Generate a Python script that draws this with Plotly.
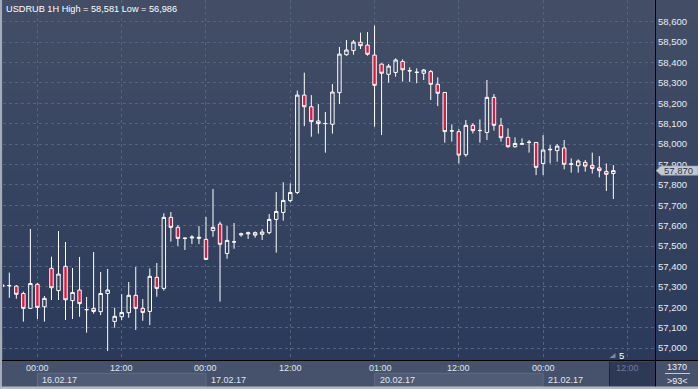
import plotly.graph_objects as go

# ---------------- data ----------------
symbol = "USDRUB"
timeframe = "1H"

opens = [57303, 57305, 57304, 57268, 57195, 57313, 57203, 57391, 57282, 57401,
         57233, 57285, 57188, 57195, 57179, 57268, 57131, 57154, 57174, 57259,
         57195, 57180, 57347, 57293, 57641, 57592, 57538, 57540, 57538, 57533,
         57576, 57608, 57464, 57520, 57555, 57560, 57566, 57558, 57566, 57631,
         57665, 57723, 57763, 58240, 58183, 58113, 58100, 58097, 58252, 58438,
         58458, 58499, 58485, 58436, 58392, 58342, 58351, 58405, 58358, 58351,
         58347, 58355, 58293, 58253, 58064, 58061, 57948, 58092, 58066, 58057,
         58229, 58092, 58033, 57987, 57999, 58008, 58008, 57905, 57972, 57968,
         57981, 57901, 57894, 57910, 57896, 57883, 57866, 57856]
highs = [57312, 57370, 57309, 57277, 57584, 57319, 57255, 57448, 57574, 57520,
         57393, 57447, 57251, 57471, 57373, 57388, 57198, 57265, 57324, 57398,
         57241, 57391, 57417, 57661, 57667, 57603, 57541, 57554, 57598, 57643,
         57780, 57620, 57598, 57613, 57566, 57571, 57572, 57584, 57657, 57765,
         57813, 57808, 58262, 58350, 58240, 58196, 58157, 58294, 58476, 58510,
         58510, 58546, 58549, 58581, 58395, 58392, 58420, 58415, 58376, 58371,
         58368, 58363, 58327, 58253, 58097, 58074, 58118, 58102, 58121, 58314,
         58245, 58128, 58077, 58033, 58028, 58020, 58008, 58044, 57995, 58000,
         58020, 57930, 57925, 57922, 57958, 57941, 57905, 57897]
lows = [57300, 57247, 57242, 57130, 57195, 57143, 57130, 57236, 57236, 57138,
        57143, 57154, 57076, 57169, 57162, 56986, 57100, 57138, 57149, 57089,
        57134, 57113, 57252, 57282, 57522, 57501, 57481, 57510, 57510, 57432,
        57546, 57228, 57438, 57487, 57546, 57535, 57541, 57530, 57558, 57468,
        57625, 57714, 57755, 58088, 58036, 58051, 57958, 58051, 58196, 58433,
        58438, 58466, 58433, 58085, 58044, 58301, 58330, 58306, 58304, 58298,
        58314, 58216, 58186, 58007, 58012, 57905, 57938, 58052, 58007, 58020,
        58066, 58012, 57982, 57982, 57995, 57958, 57848, 57848, 57905, 57914,
        57876, 57860, 57860, 57865, 57856, 57837, 57770, 57731]
closes = [57309, 57307, 57264, 57195, 57317, 57200, 57244, 57296, 57363, 57237,
          57273, 57218, 57189, 57180, 57268, 57285, 57156, 57175, 57259, 57195,
          57175, 57352, 57293, 57641, 57592, 57538, 57539, 57544, 57543, 57435,
          57592, 57509, 57528, 57521, 57560, 57565, 57554, 57569, 57631, 57670,
          57724, 57763, 58240, 58183, 58110, 58100, 58101, 58255, 58441, 58461,
          58500, 58482, 58440, 58288, 58347, 58382, 58412, 58364, 58360, 58352,
          58363, 58293, 58249, 58061, 58065, 57946, 58092, 58066, 58067, 58229,
          58092, 58031, 57987, 58003, 58002, 58009, 57886, 57971, 57974, 57990,
          57901, 57903, 57917, 57892, 57881, 57870, 57852, 57870]
bar_index = list(range(len(opens)))

grid_ticks = [5, 17, 29, 41, 53, 65, 77, 89]
time_labels = ["00:00", "12:00", "00:00", "12:00", "01:00", "12:00", "00:00", "12:00"]
date_ticks = [5, 29, 53, 77]
date_labels = ["16.02.17", "17.02.17", "20.02.17", "21.02.17"]
price_ticks = list(range(57000, 58601, 100))
future_start = 86.45
counter_top = "1370"
counter_bottom = ">93<"
bars_marker = "5"

# ---------------- geometry helpers ----------------
W, H = 698, 389
ML, MR, MT, MB = 3, 43, 0, 29
PW = W - ML - MR
PH = H - MT - MB


def px(x):
    return (x - ML) / PW


def py(y):
    return (PH - (y - MT)) / PH


x_range = [0.1, 92.93]
y_range = [56942, 58706]

FONT = "Liberation Sans, Arial, sans-serif"
TXT = "#dfe6f0"

fig = go.Figure()
fig.add_trace(go.Candlestick(
    x=bar_index, open=opens, high=highs, low=lows, close=closes,
    increasing=dict(line=dict(color="#ffffff", width=1), fillcolor="rgba(0,0,0,0)"),
    decreasing=dict(line=dict(color="#ffffff", width=1), fillcolor="#e3173e"),
    whiskerwidth=0, hoverinfo="skip", showlegend=False,
))

shapes = []
# vertical gradient background (plot + price axis)
N = 36
top = (67, 78, 102)
bot = (43, 58, 91)
for k in range(N):
    t = k / (N - 1)
    c = tuple(round(top[i] + (bot[i] - top[i]) * t) for i in range(3))
    y0 = k * PH / N
    y1 = (k + 1) * PH / N + 0.6
    shapes.append(dict(type="rect", xref="paper", yref="paper",
                       x0=px(ML), x1=px(W), y0=py(min(y1, PH)), y1=py(y0),
                       fillcolor="rgb(%d,%d,%d)" % c, line=dict(width=0), layer="below"))

# date bands in the bottom bar
for j in range(0, len(date_ticks), 2):
    x0 = date_ticks[j]
    x1 = date_ticks[j + 1] if j + 1 < len(date_ticks) else x_range[1]
    shapes.append(dict(type="rect", xref="x", yref="paper", x0=x0, x1=x1,
                       y0=py(386.5), y1=py(373.3), fillcolor="#505c76",
                       line=dict(color="#5f6b85", width=1), layer="above"))
# future area in bottom bar
shapes.append(dict(type="rect", xref="x", yref="paper", x0=future_start, x1=x_range[1],
                   y0=py(386.5), y1=py(361.5), fillcolor="#2d3955",
                   line=dict(width=0), layer="above"))
shapes.append(dict(type="line", xref="x", yref="paper", x0=future_start, x1=future_start,
                   y0=py(386.5), y1=py(361.5), line=dict(color="#1f2739", width=1), layer="above"))
# axis lines
shapes.append(dict(type="line", xref="paper", yref="paper", x0=px(0), x1=px(W),
                   y0=py(360.5), y1=py(360.5), line=dict(color="#000000", width=1), layer="above"))
shapes.append(dict(type="line", xref="paper", yref="paper", x0=px(655.5), x1=px(655.5),
                   y0=py(387), y1=py(0), line=dict(color="#000000", width=1), layer="above"))
# borders
shapes.append(dict(type="rect", xref="paper", yref="paper", x0=px(0), x1=px(2),
                   y0=py(389), y1=py(0), fillcolor="#a4acb9", line=dict(width=0), layer="above"))
shapes.append(dict(type="rect", xref="paper", yref="paper", x0=px(0), x1=px(W),
                   y0=py(389), y1=py(386.5), fillcolor="#b3b9c3", line=dict(width=0), layer="above"))
# counter separator line
shapes.append(dict(type="line", xref="paper", yref="paper", x0=px(665), x1=px(690),
                   y0=py(373.5), y1=py(373.5), line=dict(color="#c4cad4", width=1), layer="above"))
# small marker triangle
shapes.append(dict(type="path", xref="paper", yref="paper",
                   path="M %f,%f L %f,%f L %f,%f Z" % (px(609.5), py(358), px(615.5), py(358), px(615.5), py(353)),
                   fillcolor="#7d889c", line=dict(width=0), layer="above"))
# current price label
last = closes[-1]
half = 4.6 / 0.204
shapes.append(dict(type="path", xref="paper", yref="y",
                   path="M %f,%f L %f,%f L %f,%f L %f,%f L %f,%f Z" % (
                       px(656), last, px(661), last + half, px(W), last + half,
                       px(W), last - half, px(661), last - half),
                   fillcolor="#c3c9d3", line=dict(color="#8f98a8", width=0.6), layer="above"))

annotations = []
annotations.append(dict(xref="paper", yref="paper", x=px(4), y=py(8.5), xanchor="left", yanchor="middle",
                        text="%s %s High = %s Low = %s" % (symbol, timeframe, format(max(highs), ","), format(min(lows), ",")),
                        showarrow=False, font=dict(family=FONT, size=9.2, color="#ffffff")))
for k, (tv, tl) in enumerate(zip(grid_ticks, time_labels)):
    future = tv > future_start
    annotations.append(dict(xref="x", yref="paper", x=tv, y=py(367.5), xanchor="center", yanchor="middle",
                            xshift=6 if tl == "01:00" else 0,
                            text=tl, showarrow=False,
                            font=dict(family=FONT, size=9, color="#6f7c93" if future else TXT)))
for tv, dl in zip(date_ticks, date_labels):
    annotations.append(dict(xref="x", yref="paper", x=tv, y=py(380), xanchor="left", yanchor="middle",
                            xshift=3, text=dl, showarrow=False,
                            font=dict(family=FONT, size=9, color=TXT)))
annotations.append(dict(xref="paper", yref="y", x=px(662), y=last, xanchor="left", yanchor="middle",
                        text=format(last, ","), showarrow=False,
                        font=dict(family=FONT, size=9.5, color="#2a3448")))
annotations.append(dict(xref="paper", yref="paper", x=px(621), y=py(355), xanchor="center", yanchor="middle",
                        text=bars_marker, showarrow=False,
                        font=dict(family=FONT, size=9.5, color="#ffffff")))
annotations.append(dict(xref="paper", yref="paper", x=px(677), y=py(367), xanchor="center", yanchor="middle",
                        text=counter_top, showarrow=False,
                        font=dict(family=FONT, size=9, color="#eef1f5")))
annotations.append(dict(xref="paper", yref="paper", x=px(677), y=py(380.5), xanchor="center", yanchor="middle",
                        text=counter_bottom, showarrow=False,
                        font=dict(family=FONT, size=9, color="#eef1f5")))

GRID = "#56637f"
fig.update_layout(
    width=W, height=H,
    margin=dict(l=ML, r=MR, t=MT, b=MB, pad=0),
    paper_bgcolor="#46526b",
    plot_bgcolor="rgba(0,0,0,0)",
    showlegend=False,
    shapes=shapes,
    annotations=annotations,
    xaxis=dict(range=x_range, rangeslider=dict(visible=False), tickmode="array", tickvals=grid_ticks,
               showticklabels=False, ticks="", showgrid=True, gridcolor=GRID, griddash="3px,3px",
               gridwidth=1, zeroline=False, showline=False, fixedrange=True),
    yaxis=dict(range=y_range, side="right", tickmode="array", tickvals=price_ticks, tickformat=",",
               ticks="", showgrid=True, gridcolor=GRID, griddash="3px,3px", gridwidth=1,
               zeroline=False, showline=False, ticklabelstandoff=2,
               tickfont=dict(family=FONT, size=9.5, color="#e8ecf2"), fixedrange=True),
)

fig.write_html("out.html", config={"displayModeBar": False})

# remove the browser's default page margin so the figure sits at the window origin
with open("out.html", "r", encoding="utf-8") as f:
    html = f.read()
html = html.replace("<head>", "<head><style>html,body{margin:0;padding:0;overflow:hidden;}</style>", 1)
with open("out.html", "w", encoding="utf-8") as f:
    f.write(html)
